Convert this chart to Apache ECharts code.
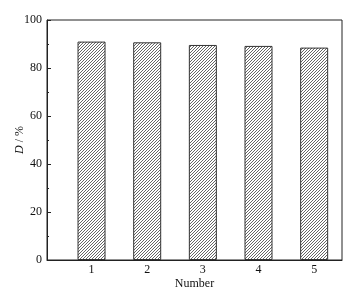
<!DOCTYPE html>
<html><head><meta charset="utf-8">
<script src="https://cdn.jsdelivr.net/npm/echarts@6/dist/echarts.min.js"></script>
<style>html,body{margin:0;padding:0;background:#fff}#c{width:361px;height:293px}</style>
</head><body><div id="c"></div>
<script>
var categories = [1, 2, 3, 4, 5];
var values = [91.0, 90.7, 89.6, 89.2, 88.5];
var yTicks = [0, 20, 40, 60, 80, 100];

var pat = document.createElement('canvas');
pat.width = 3; pat.height = 3;
var g = pat.getContext('2d');
g.fillStyle = '#fff'; g.fillRect(0, 0, 3, 3);
g.strokeStyle = '#555'; g.lineWidth = 0.9;
g.beginPath();
g.moveTo(0, 3); g.lineTo(3, 0);
g.moveTo(-1, 1); g.lineTo(1, -1);
g.moveTo(2, 4); g.lineTo(4, 2);
g.stroke();

var chart = echarts.init(document.getElementById('c'));
var font = 'Liberation Serif';
chart.setOption({
  animation: false,
  grid: {left: 47, right: 19, top: 20, bottom: 33, containLabel: false, outerBoundsMode: 'none',
    show: true, borderColor: '#222', borderWidth: 1},
  xAxis: {
    type: 'value', min: 0.2, max: 5.5,
    name: 'Number', nameLocation: 'middle', nameGap: 18, nameMoveOverlap: false,
    nameTextStyle: {fontFamily: font, fontSize: 12, color: '#111'},
    axisLine: {show: true, lineStyle: {color: '#222', width: 1}},
    axisTick: {show: false},
    splitLine: {show: false},
    axisLabel: {customValues: categories, fontFamily: font, fontSize: 12, color: '#111', margin: 4}
  },
  yAxis: {
    type: 'value', min: 0, max: 100, interval: 20,
    name: '{i|D} / %', nameLocation: 'middle', nameGap: 21, nameMoveOverlap: false,
    nameTextStyle: {fontFamily: font, fontSize: 12, color: '#111',
      rich: {i: {fontFamily: font, fontStyle: 'italic', fontSize: 12, color: '#111'}}},
    axisLine: {show: true, lineStyle: {color: '#222', width: 1}},
    axisTick: {show: true, inside: true, length: 4, lineStyle: {color: '#222'}},
    minorTick: {show: true, splitNumber: 2, length: 2, lineStyle: {color: '#222'}},
    splitLine: {show: false},
    axisLabel: {fontFamily: font, fontSize: 12, color: '#111', margin: 5}
  },
  series: [{
    type: 'bar',
    data: categories.map(function (c, i) { return [c, values[i]]; }),
    barWidth: 28,
    itemStyle: {color: {image: pat, repeat: 'repeat'}, borderColor: '#333', borderWidth: 1}
  }]
});
</script></body></html>
